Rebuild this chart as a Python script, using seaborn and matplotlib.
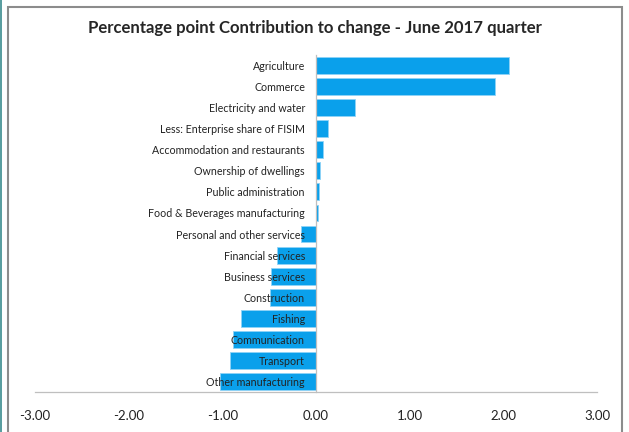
import matplotlib
matplotlib.use("Agg")
import pandas as pd
import matplotlib.pyplot as plt
from matplotlib.patches import Rectangle
import seaborn as sns

sectors = ["Agriculture", "Commerce", "Electricity and water",
           "Less: Enterprise share of FISIM", "Accommodation and restaurants",
           "Ownership of dwellings", "Public administration",
           "Food & Beverages manufacturing", "Personal and other services",
           "Financial services", "Business services", "Construction",
           "Fishing", "Communication", "Transport", "Other manufacturing"]
contrib = [2.06, 1.91, 0.42, 0.13, 0.08, 0.04, 0.03, 0.02,
           -0.16, -0.42, -0.48, -0.49, -0.80, -0.89, -0.92, -1.03]
xticks = [-3, -2, -1, 0, 1, 2, 3]

df = pd.DataFrame({"sector": sectors, "value": contrib})

sns.set_style("white")
plt.rcParams['font.family'] = ['Lato', 'DejaVu Sans']

fig = plt.figure(figsize=(6.29, 4.32), dpi=100)
ax = fig.add_axes([35/629, 40/432, 562/629, 337/432])

sns.barplot(data=df, y="sector", x="value", orient="h", color="#0AA0EB",
            saturation=1, width=0.8, edgecolor="#8fd3f7", linewidth=0.6, ax=ax)
for b in ax.patches:
    b.set_zorder(1)

ax.set_xlim(-3, 3)
ax.set_ylim(15.5, -0.5)
ax.set_xticks(xticks)
ax.set_xticklabels(["%.2f" % t for t in xticks], fontsize=9.5, color="#222222")
ax.set_xlabel("")
ax.set_ylabel("")

# y axis sits at zero, labels next to it and drawn over the bars
ax.spines['left'].set_position(('data', 0))
ax.spines['top'].set_visible(False)
ax.spines['right'].set_visible(False)
for s in ['left', 'bottom']:
    ax.spines[s].set_color("#bfbfbf")
    ax.spines[s].set_linewidth(0.9)
ax.yaxis.set_zorder(5)
ax.tick_params(axis='y', which='major', length=0, pad=8, labelsize=7.7, labelcolor="#222222")
ax.set_yticks([i + 0.5 for i in range(-1, 16)], minor=True)
ax.tick_params(axis='y', which='minor', length=4, direction='out', color="#bfbfbf")
ax.tick_params(axis='x', length=4, direction='out', color="#bfbfbf", pad=9)

fig.text(0.5, 1 - 28/432, "Percentage point Contribution to change - June 2017 quarter",
         ha='center', va='center', fontsize=12.1, fontweight='bold')

# chart frame
fig.patches.append(Rectangle((8/629, -0.05), 614/629, 1.05 - 7/432,
                             transform=fig.transFigure, fill=False,
                             edgecolor="#8c8c8c", linewidth=1.5))
fig.patches.append(Rectangle((0, 0), 2/629, 1, transform=fig.transFigure,
                             facecolor="#5a9ea0", edgecolor="none"))

fig.savefig("out.png", dpi=100)
